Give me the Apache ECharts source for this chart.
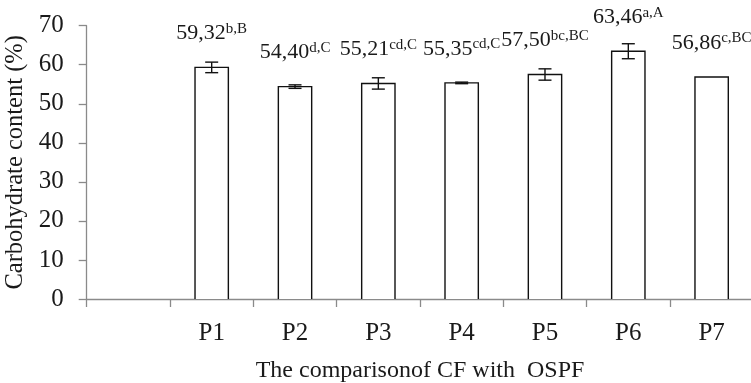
<!DOCTYPE html>
<html>
<head>
<meta charset="utf-8">
<script src="https://cdn.jsdelivr.net/npm/echarts@6/dist/echarts.min.js"></script>
<style>
  html, body { margin: 0; padding: 0; background: #fff; }
  #chart { width: 751px; height: 383px; }
</style>
</head>
<body>
<div id="chart"></div>
<script>
// Treatment groups (the first slot is left empty on the axis)
const categories = ['', 'P1', 'P2', 'P3', 'P4', 'P5', 'P6', 'P7'];
// Mean carbohydrate content (%) per treatment
const means = [null, 59.32, 54.40, 55.21, 55.35, 57.50, 63.46, 56.86];
// Standard deviation shown as error bars (P7 has none)
const errors = [null, 1.35, 0.45, 1.45, 0.2, 1.45, 1.92, 0];
// Significance letters printed as superscripts
const letters = ['', 'b,B', 'd,C', 'cd,C', 'cd,C', 'bc,BC', 'a,A', 'c,BC'];
// Y axis range and step
const yMin = 0, yMax = 70, yStep = 10;

const serif = '"Liberation Serif", "Times New Roman", serif';
const axisGray = '#8a8a8a';
const ink = '#1a1a1a';
const barRatio = 0.4;

const fmtValue = v => v.toFixed(2).replace('.', ',');

const chart = echarts.init(document.getElementById('chart'), null, { renderer: 'canvas' });

const barData = means.map((m, i) => m == null ? null : [i, m]).filter(d => d);
const errorData = means
  .map((m, i) => (m == null || !errors[i]) ? null : [i, m, errors[i]])
  .filter(d => d);

const lineStyle = { stroke: '#111', lineWidth: 1.4, fill: null };

chart.setOption({
  animation: false,
  backgroundColor: '#fff',
  grid: {
    left: 86.7,
    right: -2.3,
    top: 25.7,
    bottom: 84,
    outerBoundsMode: 'none',
    containLabel: false
  },
  xAxis: {
    type: 'category',
    data: categories,
    boundaryGap: true,
    axisLine: { show: true, lineStyle: { color: axisGray, width: 1.3 } },
    axisTick: { show: true, inside: false, length: 8, alignWithLabel: false, lineStyle: { color: axisGray, width: 1.3 } },
    axisLabel: { show: true, interval: 0, margin: 22, fontFamily: serif, fontSize: 25, color: ink },
    name: 'The comparisonof CF with  OSPF',
    nameLocation: 'middle',
    nameGap: 60,
    nameTextStyle: { fontFamily: serif, fontSize: 24, color: ink }
  },
  yAxis: {
    type: 'value',
    min: yMin,
    max: yMax,
    interval: yStep,
    axisLine: { show: true, lineStyle: { color: axisGray, width: 1.3 } },
    axisTick: { show: true, inside: false, length: 8, lineStyle: { color: axisGray, width: 1.3 } },
    splitLine: { show: false },
    axisLabel: { margin: 23, fontFamily: serif, fontSize: 25, color: ink },
    name: 'Carbohydrate content (%)',
    nameLocation: 'middle',
    nameRotate: 90,
    nameGap: 56,
    nameTextStyle: { fontFamily: serif, fontSize: 24.5, color: ink }
  },
  series: [
    {
      // white bars carrying the value labels
      type: 'bar',
      data: means.map(v => v == null ? '-' : v),
      barWidth: (barRatio * 100) + '%',
      itemStyle: { color: '#ffffff', borderWidth: 0 },
      label: {
        show: true,
        position: 'top',
        distance: 22,
        formatter: p => '{v|' + fmtValue(p.value) + '}{s|' + letters[p.dataIndex] + '}',
        rich: {
          v: { fontFamily: serif, fontSize: 22, color: ink, lineHeight: 24 },
          s: { fontFamily: serif, fontSize: 15, color: ink, verticalAlign: 'top', lineHeight: 15 }
        }
      },
      z: 2
    },
    {
      // bar outlines: left, top and right edges, resting on the axis line
      type: 'custom',
      data: barData,
      z: 3,
      renderItem: (params, api) => {
        const x = api.value(0);
        const top = api.coord([x, api.value(1)]);
        const base = api.coord([x, 0]);
        const half = api.size([1, 0])[0] * barRatio / 2;
        return {
          type: 'polyline',
          shape: {
            points: [
              [top[0] - half, base[1]],
              [top[0] - half, top[1]],
              [top[0] + half, top[1]],
              [top[0] + half, base[1]]
            ]
          },
          style: lineStyle
        };
      }
    },
    {
      // error bars
      type: 'custom',
      data: errorData,
      z: 4,
      renderItem: (params, api) => {
        const x = api.value(0);
        const m = api.value(1);
        const e = api.value(2);
        const hi = api.coord([x, m + e]);
        const lo = api.coord([x, m - e]);
        const cap = 6.5;
        return {
          type: 'group',
          children: [
            { type: 'line', shape: { x1: hi[0], y1: hi[1], x2: lo[0], y2: lo[1] }, style: lineStyle },
            { type: 'line', shape: { x1: hi[0] - cap, y1: hi[1], x2: hi[0] + cap, y2: hi[1] }, style: lineStyle },
            { type: 'line', shape: { x1: lo[0] - cap, y1: lo[1], x2: lo[0] + cap, y2: lo[1] }, style: lineStyle }
          ]
        };
      }
    }
  ]
});
</script>
</body>
</html>
